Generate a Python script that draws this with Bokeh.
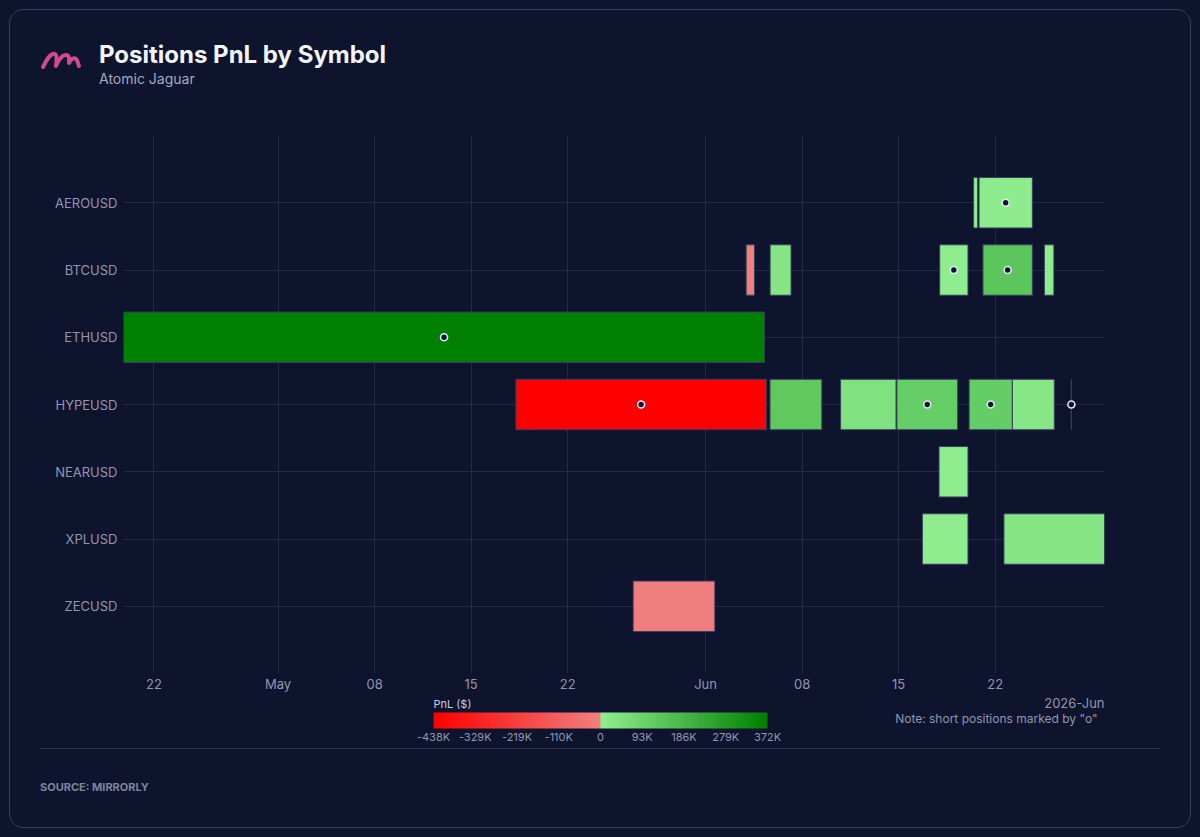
from datetime import datetime
from bokeh.plotting import figure
from bokeh.layouts import column
from bokeh.models import (ColumnDataSource, FactorRange, Range1d, FixedTicker, Title,
                          ColorBar, LinearColorMapper, Div)
from bokeh.transform import transform
from bokeh.embed import file_html
from bokeh.resources import INLINE

# ---------------- data ----------------
symbols = ["AEROUSD", "BTCUSD", "ETHUSD", "HYPEUSD", "NEARUSD", "XPLUSD", "ZECUSD"]

pos_symbol = ["AEROUSD", "AEROUSD",
              "BTCUSD", "BTCUSD", "BTCUSD", "BTCUSD", "BTCUSD",
              "ETHUSD",
              "HYPEUSD", "HYPEUSD", "HYPEUSD", "HYPEUSD", "HYPEUSD", "HYPEUSD", "HYPEUSD",
              "NEARUSD",
              "XPLUSD", "XPLUSD",
              "ZECUSD"]
pos_start = ["2026-06-20 10:30", "2026-06-20 20:00",
             "2026-06-03 22:40", "2026-06-05 16:20", "2026-06-17 23:30", "2026-06-21 02:50", "2026-06-25 13:40",
             "2026-04-19 19:00",
             "2026-05-18 06:00", "2026-06-05 16:10", "2026-06-10 19:00", "2026-06-14 21:00",
             "2026-06-20 02:40", "2026-06-23 06:00", "2026-06-27 12:40",
             "2026-06-17 22:20",
             "2026-06-16 17:20", "2026-06-22 15:20",
             "2026-05-26 18:00"]
pos_end = ["2026-06-20 17:30", "2026-06-24 16:45",
           "2026-06-04 13:10", "2026-06-07 04:50", "2026-06-20 00:45", "2026-06-24 16:45", "2026-06-26 06:15",
           "2026-06-05 06:45",
           "2026-06-05 09:50", "2026-06-09 10:20", "2026-06-14 19:30", "2026-06-19 06:45",
           "2026-06-23 06:00", "2026-06-26 07:00", "2026-06-27 12:40",
           "2026-06-20 00:45",
           "2026-06-20 00:45", "2026-06-29 22:20",
           "2026-06-01 16:10"]
pos_pnl = [3000, 6000,
           -4000, 28000, 4000, 134000, 7000,
           372100,
           -438200, 127000, 46000, 108000, 111000, 26000, 10000,
           3000,
           5000, 28000,
           -8000]
pos_short = [False, True,
             False, False, True, True, False,
             True,
             True, False, False, True, True, False, True,
             False,
             False, False,
             False]

x_tick_dates = ["2026-04-22", "2026-05-01", "2026-05-08", "2026-05-15", "2026-05-22",
                "2026-06-01", "2026-06-08", "2026-06-15", "2026-06-22"]
x_tick_labels = ["22", "May", "08", "15", "22", "Jun", "08", "15", "22"]

cbar_ticks = [-1.0, -0.75, -0.5, -0.25, 0.0, 0.25, 0.5, 0.75, 1.0]
cbar_labels = ["-438K", "-329K", "-219K", "-110K", "0", "93K", "186K", "279K", "372K"]

title_text = "Positions PnL by Symbol"
subtitle_text = "Atomic Jaguar"
source_text = "SOURCE: MIRRORLY"
note_text = 'Note: short positions marked by "o"'
period_text = "2026-Jun"

# ---------------- style ----------------
BG = "#0e132e"
GRID = "#242a46"
TXT = "#9297b0"
FONT = "Inter"

CARD_W, CARD_H = 1180, 817
HEAD_H, FIG_H = 100, 638
FOOT_H = CARD_H - HEAD_H - FIG_H


def ms(s):
    d = datetime.fromisoformat(s)
    return (d - datetime(1970, 1, 1)).total_seconds() * 1000.0


starts = [datetime.fromisoformat(s) for s in pos_start]
ends = [datetime.fromisoformat(s) for s in pos_end]
mids = [a + (b - a) / 2 for a, b in zip(starts, ends)]
pmin, pmax = min(pos_pnl), max(pos_pnl)
norm = [v / abs(pmin) if v < 0 else v / pmax for v in pos_pnl]

src = ColumnDataSource(dict(symbol=pos_symbol, start=starts, end=ends, norm=norm, pnl=pos_pnl))
short_src = ColumnDataSource(dict(
    symbol=[s for s, f in zip(pos_symbol, pos_short) if f],
    mid=[m for m, f in zip(mids, pos_short) if f]))


def lerp(c1, c2, n):
    out = []
    for i in range(n):
        t = i / (n - 1)
        out.append("#%02x%02x%02x" % tuple(round(a + (b - a) * t) for a, b in zip(c1, c2)))
    return out


palette = lerp((255, 0, 0), (240, 128, 128), 128) + lerp((144, 238, 144), (0, 128, 0), 128)
mapper = LinearColorMapper(palette=palette, low=-1, high=1)

p = figure(width=CARD_W, height=FIG_H, output_backend="svg", toolbar_location=None,
           x_axis_type="datetime",
           y_range=FactorRange(factors=list(reversed(symbols)), range_padding=0.5,
                               range_padding_units="absolute"),
           x_range=Range1d(min(starts), max(ends)),
           min_border_left=113, min_border_right=86, min_border_top=25, min_border_bottom=75,
           margin=0)
p.background_fill_color = BG
p.border_fill_color = BG
p.outline_line_color = None

p.hbar(y="symbol", left="start", right="end", height=0.75, source=src,
       fill_color=transform("norm", mapper), line_color="#34405c", line_width=1)
p.scatter(x="mid", y="symbol", source=short_src, size=7, fill_color=BG,
          line_color="#e2e5f4", line_width=1.6)

# axes
p.xaxis.ticker = FixedTicker(ticks=[ms(d) for d in x_tick_dates])
p.xaxis.major_label_overrides = {ms(d): l for d, l in zip(x_tick_dates, x_tick_labels)}
for ax in (p.xaxis[0], p.yaxis[0]):
    ax.axis_line_color = None
    ax.major_tick_line_color = None
    ax.minor_tick_line_color = None
    ax.major_tick_out = 0
    ax.major_tick_in = 0
    ax.major_label_text_font = FONT
    ax.major_label_text_font_size = "13px"
    ax.major_label_text_color = TXT
p.xaxis.major_label_standoff = 2
p.yaxis.major_label_standoff = 6
p.xgrid.grid_line_color = GRID
p.ygrid.grid_line_color = GRID

# texts under the x axis
p.add_layout(Title(text=period_text, align="right", text_font=FONT, text_font_size="13px",
                   text_color=TXT, text_font_style="normal", standoff=-4), "below")
p.add_layout(Title(text=note_text, align="right", offset=7, text_font=FONT, text_font_size="12px",
                   text_color=TXT, text_font_style="normal", standoff=0), "below")

# colour bar
cb = ColorBar(color_mapper=mapper, orientation="horizontal", width=334, height=16,
              location=(310, -73), padding=0,
              ticker=FixedTicker(ticks=cbar_ticks),
              major_label_overrides={t: l for t, l in zip(cbar_ticks, cbar_labels)},
              title="PnL ($)", title_text_font=FONT, title_text_font_size="11px",
              title_text_color="#c9cce0", title_text_font_style="normal", title_standoff=4,
              major_label_text_font=FONT, major_label_text_font_size="11px",
              major_label_text_color=TXT, label_standoff=1,
              major_tick_line_color=None, minor_tick_line_color=None,
              bar_line_color=None, border_line_color=None, background_fill_alpha=0)
p.add_layout(cb)

# header (logo + titles); coordinates relative to the card's inner corner
header = Div(width=CARD_W, height=HEAD_H, margin=0, text=f"""
<div style="position:relative;width:{CARD_W}px;height:{HEAD_H}px;font-family:Inter,sans-serif;">
  <svg style="position:absolute;left:0;top:0" width="100" height="100">
    <path d="M33,57 C36,51 39,45 43,44 C47,43 47,48 46,56 C49,49 52,45 56,45 C60,45 59,50 59,53
             C61,49 64,47 66,49 C68,51 68,54 69,56"
          stroke="#cf4a92" stroke-width="4" fill="none" stroke-linecap="round" stroke-linejoin="round"/>
  </svg>
  <div style="position:absolute;left:89px;top:33px;font-size:24px;line-height:24px;font-weight:700;color:#f4f5fa;white-space:nowrap;">{title_text}</div>
  <div style="position:absolute;left:89px;top:62px;font-size:14px;line-height:14px;color:#a6aac2;white-space:nowrap;">{subtitle_text}</div>
</div>""")

footer = Div(width=CARD_W, height=FOOT_H, margin=0, text=f"""
<div style="position:relative;width:{CARD_W}px;height:{FOOT_H}px;font-family:Inter,sans-serif;">
  <div style="position:absolute;left:30px;top:0;width:1120px;height:1px;background:#2c3352;"></div>
  <div style="position:absolute;left:30px;top:34px;font-size:11px;line-height:11px;font-weight:700;color:#7f849e;white-space:nowrap;">{source_text}</div>
</div>""")

card = column(header, p, footer, width=CARD_W + 2, height=CARD_H + 2, margin=(9, 9, 9, 9),
              styles={"border": "1px solid #353c5c", "border-radius": "14px",
                      "box-sizing": "border-box", "background-color": BG})
page = column(card, width=1200, height=837, margin=0, styles={"background-color": BG})

open("out.html", "w").write(file_html(page, INLINE))
